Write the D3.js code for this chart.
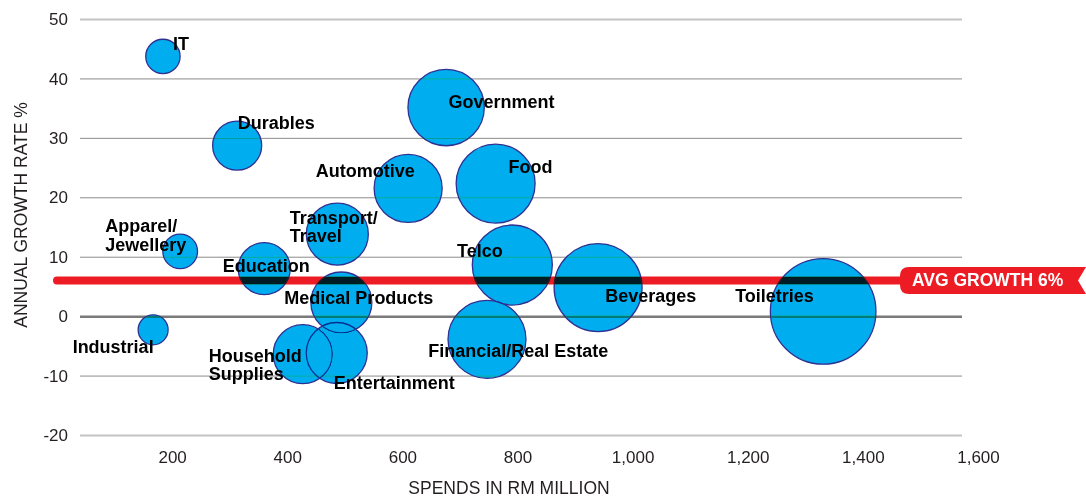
<!DOCTYPE html>
<html>
<head>
<meta charset="utf-8">
<script src="https://cdn.jsdelivr.net/npm/d3@7"></script>
<style>
    html, body { margin: 0; padding: 0; background: #fff; }
    svg { display: block; font-family: 'Liberation Sans', Arial, sans-serif; }
    .bubble { mix-blend-mode: darken; }
</style>
</head>
<body>
<div id="chart"></div>
<script>
// Spend vs growth, one bubble per category
const categories = ['IT', 'Durables', 'Apparel/\nJewellery', 'Industrial', 'Education', 'Transport/\nTravel',
    'Medical Products', 'Household\nSupplies', 'Entertainment', 'Telco', 'Financial/Real Estate',
    'Government', 'Automotive', 'Food', 'Beverages', 'Toiletries'];
const spends = [184, 313, 214, 167, 360, 487, 494, 427, 486, 791, 747, 676, 610, 762, 940, 1331];
const growth = [43.7, 28.7, 10.9, -2.3, 8.0, 13.8, 2.3, -6.4, -6.2, 8.6, -3.9, 35.1, 21.5, 22.3, 4.8, 0.8];
const sizes = [10.5, 21.4, 10.7, 8.0, 24.1, 34.2, 33.1, 31.0, 33.1, 57.0, 54.1, 51.9, 41.2, 55.5, 68.9, 99.2];
const xTicks = [200, 400, 600, 800, 1000, 1200, 1400, 1600];
const yTicks = [-20, -10, 0, 10, 20, 30, 40, 50];
const avgGrowth = 6;

// label placement relative to the bubble centre (layout only)
const labelOffsets = [[10, -6.5], [0.5, -16.5], [-75, -19], [-80.5, 23], [-41.5, 3.2], [-47.5, -10.5],
    [-57, 1.8], [-94, 7.5], [-3, 36.3], [-55.3, -8.3], [-58.7, 17.8],
    [2.3, 0], [-92.3, -11], [12.8, -10.5], [7.2, 14.8], [-88, -9]];

const width = 1086;
const height = 499;
const gridLeft = 80;
const gridRight = 962;

const x = d3.scaleLinear().domain([0, 1600]).range([57, 978]);
const y = d3.scaleLinear().domain([-20, 50]).range([435, 19]);
const r = d3.scaleSqrt().domain([0, 100]).range([0, 53]);

const rows = categories.map((name, i) => {
    return {name: name, spend: spends[i], growth: growth[i], size: sizes[i], off: labelOffsets[i]};
});

const svg = d3.select('#chart').append('svg')
    .attr('width', width)
    .attr('height', height);

svg.append('rect')
    .attr('width', width)
    .attr('height', height)
    .attr('fill', '#fff');

// y gridlines + labels
const yAxis = svg.append('g')
    .attr('transform', 'translate(' + gridLeft + ',0)')
    .call(d3.axisLeft(y).tickValues(yTicks).tickSize(-(gridRight - gridLeft)).tickPadding(12)
        .tickFormat((d) => { return d.toString() }));
yAxis.select('.domain').remove();
yAxis.selectAll('.tick line')
    .attr('stroke', (d) => {
        if (d === 50 || d === -20) return '#c4c4c4';
        return d === 0 ? '#7a7a7a' : '#8c8c8c';
    })
    .attr('stroke-width', (d) => {
        if (d === 0) return 2.5;
        return (d === 50 || d === -20) ? 2 : 1;
    });
yAxis.selectAll('.tick text')
    .attr('dy', '0.33em')
    .style('font-size', '17px')
    .attr('fill', '#231f20');

// x labels
const xAxis = svg.append('g')
    .attr('transform', 'translate(0,435)')
    .call(d3.axisBottom(x).tickValues(xTicks).tickSize(0).tickPadding(16).tickFormat(d3.format(',')));
xAxis.select('.domain').remove();
xAxis.selectAll('.tick text')
    .style('font-size', '17px')
    .attr('fill', '#231f20');

svg.append('text')
    .attr('x', 509)
    .attr('y', 494)
    .attr('text-anchor', 'middle')
    .style('font-size', '17.5px')
    .attr('fill', '#231f20')
    .text('SPENDS IN RM MILLION');

svg.append('text')
    .attr('transform', 'translate(27,215) rotate(-90)')
    .attr('text-anchor', 'middle')
    .style('font-size', '17.5px')
    .attr('fill', '#231f20')
    .text('ANNUAL GROWTH RATE %');

// average growth line
svg.append('line')
    .attr('x1', x(0))
    .attr('x2', 905)
    .attr('y1', y(avgGrowth))
    .attr('y2', y(avgGrowth))
    .attr('stroke', '#ed1c24')
    .attr('stroke-width', 8)
    .attr('stroke-linecap', 'round');

// bubbles
svg.selectAll('.bubble')
    .data(rows)
    .enter()
.append('circle')
    .attr('class', 'bubble')
    .attr('cx', (d) => { return x(d.spend) })
    .attr('cy', (d) => { return y(d.growth) })
    .attr('r', (d) => { return r(d.size) })
    .attr('fill', '#00aeef')
    .attr('stroke', '#2e3192')
    .attr('stroke-width', 1.3);

// labels
const labels = svg.selectAll('.label')
    .data(rows)
    .enter()
.append('text')
    .attr('class', 'label')
    .attr('x', (d) => { return x(d.spend) + d.off[0] })
    .attr('y', (d) => { return y(d.growth) + d.off[1] })
    .style('font-size', '18px')
    .style('font-weight', 'bold')
    .attr('fill', '#000');

labels.each(function(d) {
    const lines = d.name.split('\n');
    const t = d3.select(this);
    lines.forEach((line, i) => {
        t.append('tspan')
            .attr('x', x(d.spend) + d.off[0])
            .attr('dy', i === 0 ? 0 : 18.5)
            .text(line);
    });
});

// banner for the average line
const bTop = y(avgGrowth) - 13.5;
const bBot = y(avgGrowth) + 13.5;
const bLeft = 900;
const bRight = width;
const rad = 9;
const banner = d3.path();
banner.moveTo(bLeft + rad, bTop);
banner.lineTo(bRight, bTop);
banner.lineTo(bRight - 8, (bTop + bBot) / 2);
banner.lineTo(bRight, bBot);
banner.lineTo(bLeft + rad, bBot);
banner.quadraticCurveTo(bLeft, bBot, bLeft, bBot - rad);
banner.lineTo(bLeft, bTop + rad);
banner.quadraticCurveTo(bLeft, bTop, bLeft + rad, bTop);
banner.closePath();

svg.append('path')
    .attr('d', banner.toString())
    .attr('fill', '#ed1c24');

svg.append('text')
    .attr('x', 912)
    .attr('y', y(avgGrowth) + 6)
    .style('font-size', '17.5px')
    .style('font-weight', 'bold')
    .attr('fill', '#fff')
    .text('AVG GROWTH ' + avgGrowth + '%');
</script>
</body>
</html>
